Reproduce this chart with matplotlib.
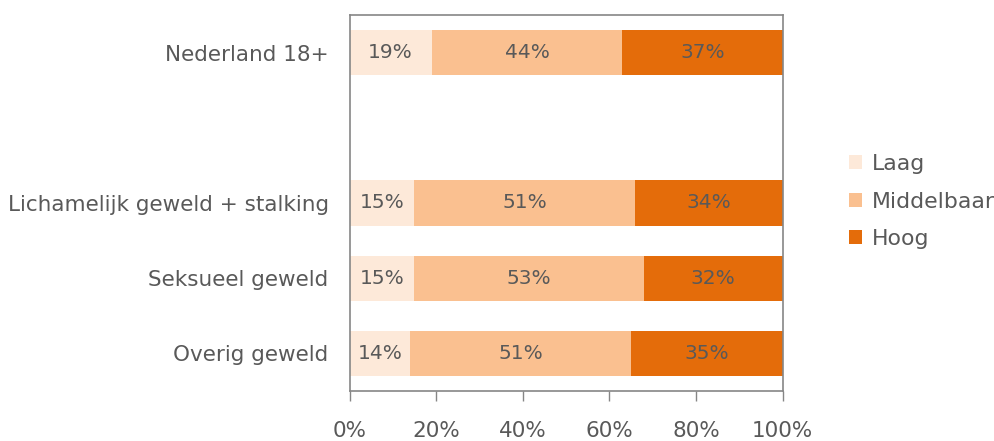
import matplotlib.pyplot as plt
from matplotlib.patches import Patch

# Data
categories = ['Nederland 18+', '', 'Lichamelijk geweld + stalking', 'Seksueel geweld', 'Overig geweld']
laag = [19, 0, 15, 15, 14]
middelbaar = [44, 0, 51, 53, 51]
hoog = [37, 0, 34, 32, 35]
series_names = ['Laag', 'Middelbaar', 'Hoog']
colors = ['#FDE9D9', '#FAC090', '#E46C0A']
xticks = [0, 20, 40, 60, 80, 100]

text_color = '#595959'
plt.rcParams['font.family'] = ['DejaVu Sans']

fig = plt.figure(figsize=(9.95, 4.41), dpi=100)
ax = fig.add_axes([0.3513, 0.1134, 0.4352, 0.8526])

ypos = list(range(len(categories) - 1, -1, -1))
left = [0] * len(categories)
for name, vals, col in zip(series_names, [laag, middelbaar, hoog], colors):
    ax.barh(ypos, vals, left=left, height=0.6, color=col, label=name)
    for y, l, v in zip(ypos, left, vals):
        if v > 0:
            ax.text(l + v / 2, y, f'{v}%', ha='center', va='center',
                    fontsize=14.5, color=text_color)
    left = [a + b for a, b in zip(left, vals)]

ax.set_xlim(0, 100)
ax.set_ylim(-0.5, 4.5)
ax.set_yticks(ypos)
ax.set_yticklabels(categories, fontsize=15.5, color=text_color)
ax.tick_params(axis='y', length=0, pad=15)
ax.set_xticks(xticks)
ax.set_xticklabels([f'{t}%' for t in xticks], fontsize=15.5, color=text_color)
ax.tick_params(axis='x', length=7, width=1, color='#868686', pad=14.5)
for s in ax.spines.values():
    s.set_color('#868686')
    s.set_linewidth(1.2)

handles = [Patch(facecolor=c, label=n) for n, c in zip(series_names, colors)]
leg = fig.legend(handles=handles, loc='center left', bbox_to_anchor=(0.853, 0.543),
                 frameon=False, fontsize=15.8, handlelength=0.6, handleheight=0.6,
                 handletextpad=0.45, labelspacing=0.8, borderpad=0, borderaxespad=0)
for t in leg.get_texts():
    t.set_color(text_color)

plt.savefig('out.png', dpi=100)
